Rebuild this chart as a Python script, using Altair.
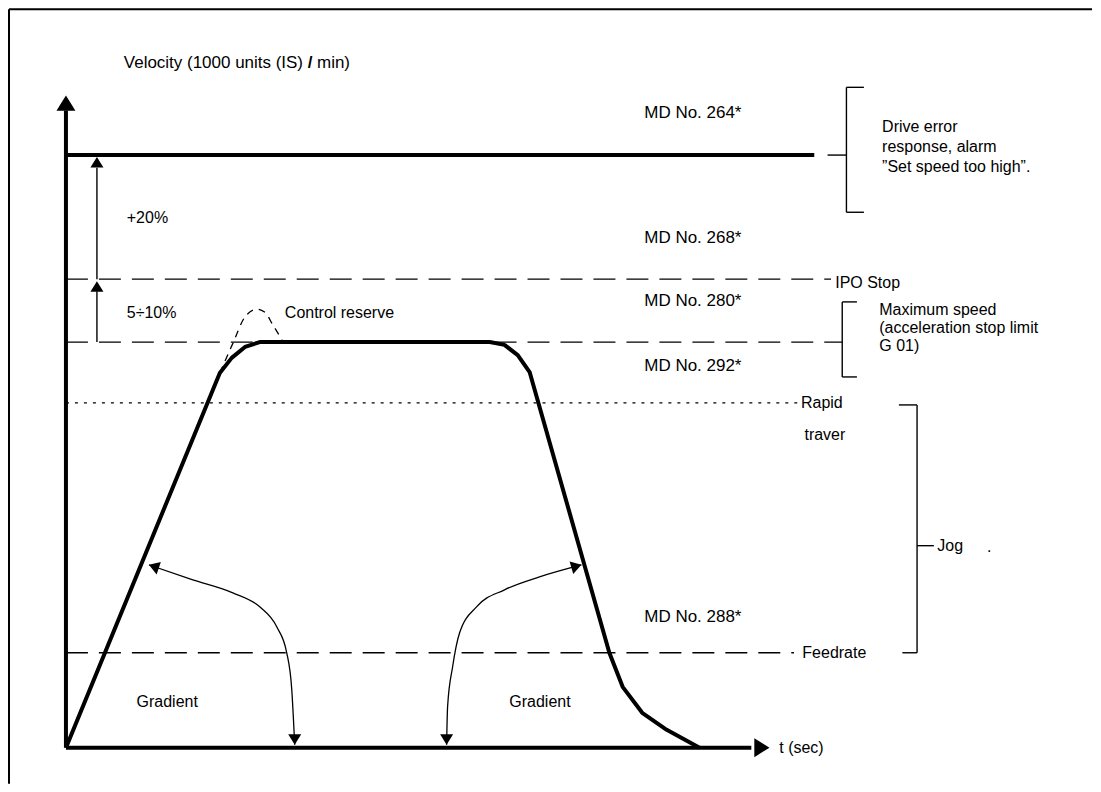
import altair as alt
import pandas as pd

# ---------------- diagram data (t = time units, v = velocity units, 100 = maximum speed) ----------------
level_names = ["MD264", "IPO", "MAX", "RAPID", "FEED"]
level_v = [146.1, 115.5, 100.0, 85.0, 23.4]
level_t_end = [107.0, 109.4, 111.0, 104.9, 104.1]
level_style = ["thick", "dashed", "dashed", "dotted", "dashed"]

profile_t = [0, 22.0, 23.7, 25.6, 27.7, 60.6, 62.7, 64.6, 66.3, 77.7, 79.6, 82.4, 85.9, 90.6]
profile_v = [0, 92.4, 96.1, 98.8, 100.0, 100.0, 99.3, 96.8, 92.6, 23.4, 15.0, 8.6, 4.4, 0]

reserve_t = [22.0, 23.9, 25.6, 27.3, 28.4, 29.6, 30.9]
reserve_v = [92.4, 99.8, 106.2, 108.1, 107.4, 104.2, 100.5]

grad_left_t = [11.86, 18.14, 23.86, 27.71, 30.14, 31.57, 32.29, 32.71]
grad_left_v = [45.07, 41.38, 38.18, 34.73, 29.80, 23.40, 14.29, 0.74]
grad_right_t = [73.71, 67.71, 62.71, 58.71, 56.29, 55.29, 54.57, 54.43]
grad_right_v = [45.07, 42.12, 38.92, 34.73, 28.33, 19.95, 10.10, 0.74]

# bracket / connector segments: t1, t2, v1, v2
seg_t1 = [108.9, 111.6, 111.6, 111.6, 111.0, 111.0, 111.0, 119.1, 121.7, 119.6, 121.7, 4.43, 4.43]
seg_t2 = [111.6, 111.6, 114.1, 114.1, 111.0, 113.1, 113.1, 121.7, 121.7, 121.7, 124.1, 4.43, 4.43]
seg_v1 = [146.1, 162.8, 162.8, 132.0, 109.9, 109.9, 91.4, 84.5, 84.5, 23.4, 49.8, 115.5, 100.0]
seg_v2 = [146.1, 132.0, 162.8, 132.0, 91.4, 109.9, 91.4, 84.5, 23.4, 23.4, 49.8, 143.0, 112.5]

# axes: y axis up to arrow, x axis to arrow
axis_t1 = [0, 0]
axis_t2 = [0, 98.0]
axis_v1 = [0, 0]
axis_v2 = [157.1, 0]

# arrow heads (tip position, direction in degrees clockwise from up)
big_head_t = [0, 100.6]
big_head_v = [160.8, 0]
big_head_angle = [0, 90]
small_head_t = [4.43, 4.43, 11.86, 32.71, 54.43, 73.71]
small_head_v = [145.6, 115.0, 45.07, 0.74, 0.74, 45.07]
small_head_angle = [0, 0, 289, 180, 180, 74]

# title pieces around the bold slash
title_left = "Velocity (1000 units (IS)"
title_slash = "/"
title_right = "min)"
title_slash_t = 34.9
title_v = 168.7

# machine-data labels
md_text = ["MD No. 264*", "MD No. 268*", "MD No. 280*", "MD No. 292*", "MD No. 288*"]
md_t = [82.7, 82.7, 82.7, 82.7, 82.7]
md_v = [156.4, 125.6, 110.1, 94.1, 32.3]

# other labels
label_text = [
    "Drive error", "response, alarm", "\u201dSet speed too high\u201d.", "+20%", "IPO Stop", "5\u00f710%",
    "Control reserve", "Maximum speed", "(acceleration stop limit", "G 01)",
    "Rapid", "traver", "Jog", ".", "Feedrate", "Gradient", "Gradient", "t (sec)",
]
label_t = [116.7, 116.7, 116.7, 8.7, 110.0, 8.7,
           31.3, 116.3, 116.3, 116.3,
           105.1, 105.6, 124.6, 131.7, 105.3, 10.1, 63.4, 102.0]
label_v = [153.0, 148.0, 143.1, 130.5, 114.5, 107.1,
           107.1, 107.8, 103.4, 99.0,
           85.0, 77.1, 49.8, 49.5, 23.4, 11.3, 11.3, 0]

# ---------------- chart ----------------
W, H = 1085, 776
xs = alt.Scale(domain=[-8.286, 146.714], nice=False, zero=False)
ys = alt.Scale(domain=[-8.867, 182.27], nice=False, zero=False)
FONT = "Liberation Sans"
ARROW = "M0,0L-1,1.6L1,1.6Z"

levels = pd.DataFrame({"name": level_names, "v": level_v, "t0": 0.0, "t1": level_t_end, "style": level_style})
profile = pd.DataFrame({"t": profile_t, "v": profile_v, "i": range(len(profile_t))})
reserve = pd.DataFrame({"t": reserve_t, "v": reserve_v, "i": range(len(reserve_t))})
grads = pd.concat([
    pd.DataFrame({"t": grad_left_t, "v": grad_left_v, "i": range(len(grad_left_t)), "g": "left"}),
    pd.DataFrame({"t": grad_right_t, "v": grad_right_v, "i": range(len(grad_right_t)), "g": "right"}),
])
segs = pd.DataFrame({"t1": seg_t1, "t2": seg_t2, "v1": seg_v1, "v2": seg_v2})
axes_df = pd.DataFrame({"t1": axis_t1, "t2": axis_t2, "v1": axis_v1, "v2": axis_v2})
big_heads = pd.DataFrame({"t": big_head_t, "v": big_head_v, "a": big_head_angle})
small_heads = pd.DataFrame({"t": small_head_t, "v": small_head_v, "a": small_head_angle})
labels = pd.DataFrame({"text": label_text, "t": label_t, "v": label_v})
md_labels = pd.DataFrame({"text": md_text, "t": md_t, "v": md_v})
title_df = pd.DataFrame({"l": [title_left], "s": [title_slash], "r": [title_right], "t": [title_slash_t], "v": [title_v]})

X = lambda f: alt.X(f, scale=xs, axis=None)
Y = lambda f: alt.Y(f, scale=ys, axis=None)

frame = alt.Chart(pd.DataFrame({"k": [0]})).mark_rule(color="black", strokeWidth=2).encode(
    x=alt.value(1), x2=alt.value(W), y=alt.value(1), y2=alt.value(1)
)
frame_left = alt.Chart(pd.DataFrame({"k": [0]})).mark_rule(color="black", strokeWidth=2).encode(
    x=alt.value(1), x2=alt.value(1), y=alt.value(1), y2=alt.value(H)
)

def level_layer(style, **mk):
    return alt.Chart(levels).transform_filter(alt.datum.style == style).mark_rule(color="black", **mk).encode(
        x=X("t0:Q"), x2="t1:Q", y=Y("v:Q")
    )

thick_lv = level_layer("thick", strokeWidth=4)
dash_lv = level_layer("dashed", strokeWidth=1.3, strokeDash=[22, 11])
dot_lv = level_layer("dotted", strokeWidth=1.3, strokeDash=[3, 6])

seg_layer = alt.Chart(segs).mark_rule(color="black", strokeWidth=1.4).encode(
    x=X("t1:Q"), x2="t2:Q", y=Y("v1:Q"), y2="v2:Q"
)
axis_layer = alt.Chart(axes_df).mark_rule(color="black", strokeWidth=4).encode(
    x=X("t1:Q"), x2="t2:Q", y=Y("v1:Q"), y2="v2:Q"
)

profile_layer = alt.Chart(profile).mark_line(color="black", strokeWidth=4, strokeJoin="round").encode(
    x=X("t:Q"), y=Y("v:Q"), order="i:Q"
)
reserve_layer = alt.Chart(reserve).mark_line(color="black", strokeWidth=1.3, strokeDash=[7, 6], interpolate="monotone").encode(
    x=X("t:Q"), y=Y("v:Q"), order="i:Q"
)
grad_layer = alt.Chart(grads).mark_line(color="black", strokeWidth=1.3, interpolate="monotone").encode(
    x=X("t:Q"), y=Y("v:Q"), order="i:Q", detail="g:N"
)

big_head_layer = alt.Chart(big_heads).mark_point(shape=ARROW, filled=True, color="black", opacity=1, size=361).encode(
    x=X("t:Q"), y=Y("v:Q"), angle=alt.Angle("a:Q", scale=None)
)
small_head_layer = alt.Chart(small_heads).mark_point(shape=ARROW, filled=True, color="black", opacity=1, size=170).encode(
    x=X("t:Q"), y=Y("v:Q"), angle=alt.Angle("a:Q", scale=None)
)

text_layer = alt.Chart(labels).mark_text(align="left", baseline="middle", font=FONT, fontSize=16, color="black").encode(
    x=X("t:Q"), y=Y("v:Q"), text="text:N"
)
md_layer = alt.Chart(md_labels).mark_text(align="left", baseline="middle", font=FONT, fontSize=17, color="black").encode(
    x=X("t:Q"), y=Y("v:Q"), text="text:N"
)
title_base = alt.Chart(title_df).encode(x=X("t:Q"), y=Y("v:Q"))
title_l = title_base.mark_text(align="right", baseline="middle", font=FONT, fontSize=17, dx=-7).encode(text="l:N")
title_s = title_base.mark_text(align="center", baseline="middle", font=FONT, fontSize=17, fontWeight="bold").encode(text="s:N")
title_r = title_base.mark_text(align="left", baseline="middle", font=FONT, fontSize=17, dx=7).encode(text="r:N")

chart = alt.layer(
    frame, frame_left, dash_lv, dot_lv, thick_lv, seg_layer, axis_layer, reserve_layer, grad_layer,
    profile_layer, big_head_layer, small_head_layer, text_layer, md_layer, title_l, title_s, title_r
).properties(width=W, height=H, padding=0).configure_view(stroke=None)

chart.save("out.html", embed_options={"renderer": "svg", "actions": False})
